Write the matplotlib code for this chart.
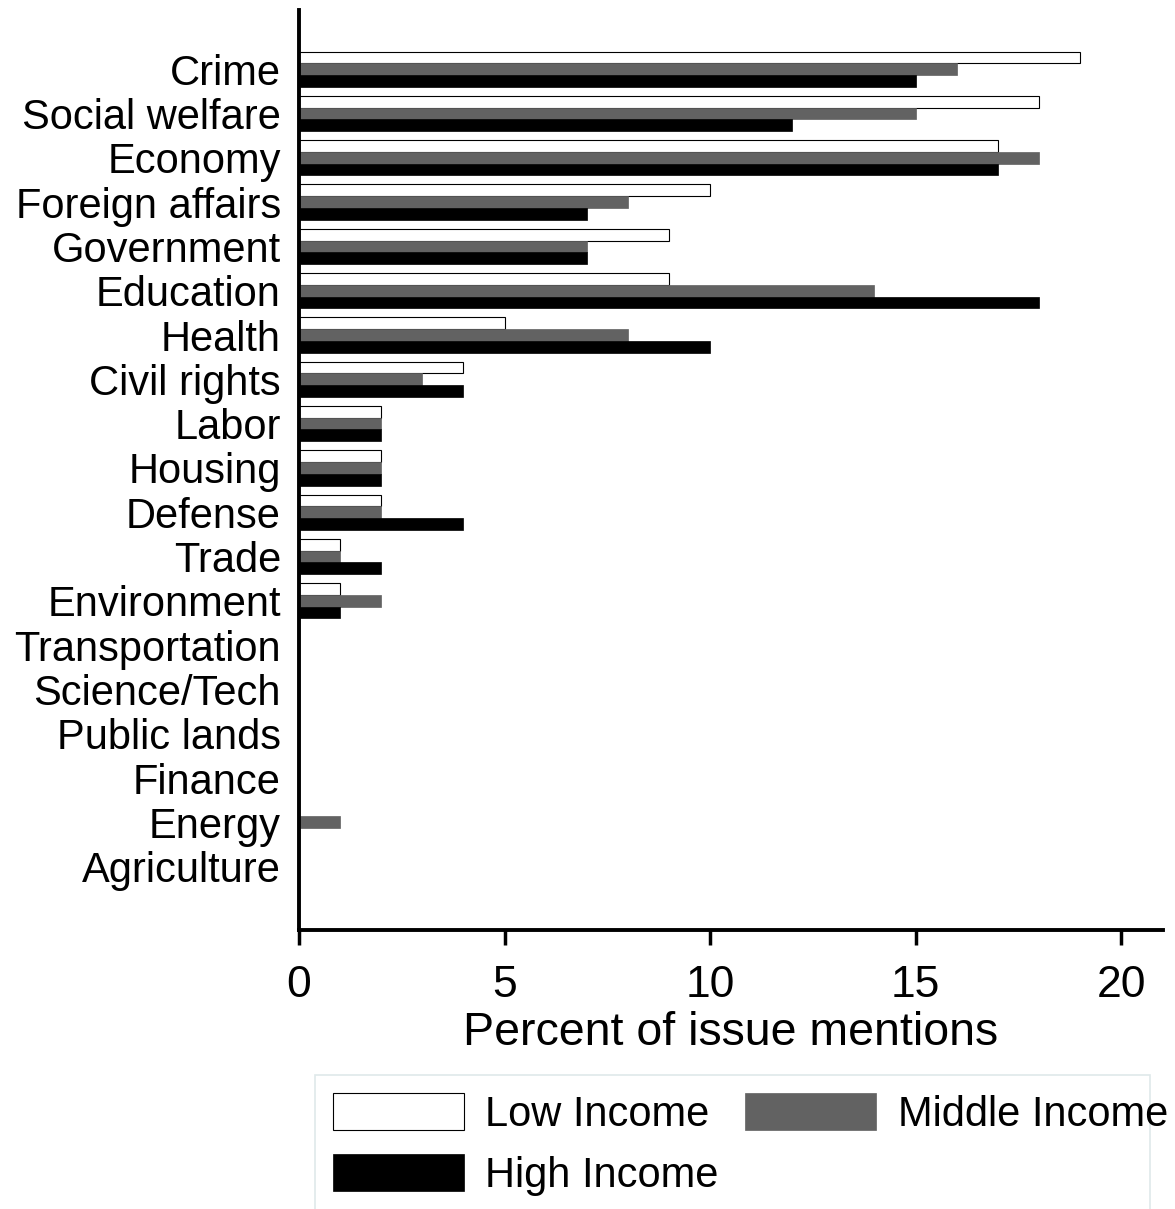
import numpy as np
import matplotlib.pyplot as plt
from matplotlib.patches import Rectangle

plt.rcParams['font.family'] = ['Liberation Sans', 'DejaVu Sans']

categories = ['Crime', 'Social welfare', 'Economy', 'Foreign affairs', 'Government',
              'Education', 'Health', 'Civil rights', 'Labor', 'Housing', 'Defense',
              'Trade', 'Environment', 'Transportation', 'Science/Tech', 'Public lands',
              'Finance', 'Energy', 'Agriculture']
low_income = [19, 18, 17, 10, 9, 9, 5, 4, 2, 2, 2, 1, 1, 0, 0, 0, 0, 0, 0]
middle_income = [16, 15, 18, 8, 7, 14, 8, 3, 2, 2, 2, 1, 2, 0, 0, 0, 0, 1, 0]
high_income = [15, 12, 17, 7, 7, 18, 10, 4, 2, 2, 4, 2, 1, 0, 0, 0, 0, 0, 0]

fig = plt.figure(figsize=(11.75, 12.09), dpi=100)
ax = fig.add_axes([299/1175, 1 - 930/1209, (1163 - 299)/1175, 920/1209])

y = np.arange(len(categories))
h = 0.265
b1 = ax.barh(y - h, low_income, height=h, color='white', edgecolor='black', linewidth=0.8,
             label='Low Income')
b2 = ax.barh(y, middle_income, height=h, color='#626262', edgecolor='#626262', linewidth=0.5,
             label='Middle Income')
b3 = ax.barh(y + h, high_income, height=h, color='black', edgecolor='black', linewidth=0.5,
             label='High Income')

ax.set_ylim(19.43, -1.336)
ax.set_xlim(0, 21.02)
ax.set_yticks(y)
ax.set_yticklabels(categories, fontsize=30)
ax.tick_params(axis='y', length=0, pad=13)
ax.set_xticks([0, 5, 10, 15, 20])
ax.tick_params(axis='x', length=11, width=2.5, labelsize=32, pad=14)
ax.set_xlabel('Percent of issue mentions', fontsize=33.5, labelpad=4)

for s in ['top', 'right']:
    ax.spines[s].set_visible(False)
for s in ['left', 'bottom']:
    ax.spines[s].set_linewidth(2.8)

# legend box (frame drawn separately, narrower than the text like the original)
fig.patches.append(Rectangle((315/1175, -0.01), (1150 - 315)/1175, 0.01 + 1 - 1075/1209,
                             transform=fig.transFigure, facecolor='white',
                             edgecolor='#dfe9ea', linewidth=1.2, zorder=0))
leg = fig.legend([b1, b3, b2], ['Low Income', 'High Income', 'Middle Income'],
                 loc='upper left', bbox_to_anchor=(315/1175, 1 - 1075/1209), ncol=2,
                 fontsize=30, handlelength=3.14, handleheight=1.0, handletextpad=0.52,
                 columnspacing=0.64, borderpad=0.43, labelspacing=0.45, borderaxespad=0,
                 frameon=False)

fig.savefig('out.png', dpi=100)
